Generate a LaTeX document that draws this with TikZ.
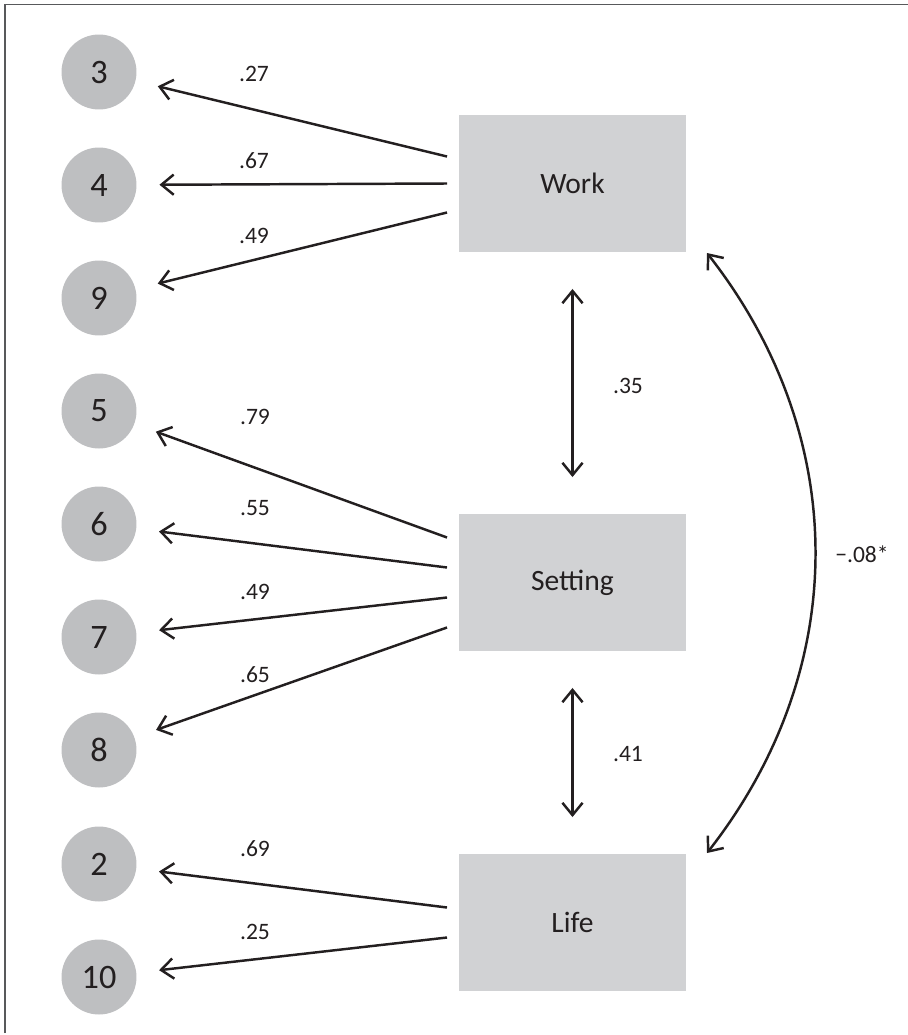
\documentclass[tikz,border=0pt]{standalone}
\usepackage{fontspec}
\setmainfont{Carlito}
\usetikzlibrary{arrows.meta}
\definecolor{itemgray}{HTML}{BEBFC1}
\definecolor{boxgray}{HTML}{D1D2D4}
\definecolor{ink}{HTML}{231F20}
\definecolor{framegray}{HTML}{58595B}

\begin{document}
\begin{tikzpicture}[x=0.02cm, y=-0.02cm,
    item/.style ={circle, fill=itemgray, minimum size=1.5cm, inner sep=0pt, outer sep=0.46cm, text=ink, font=\fontsize{19.5}{20}\selectfont},
    factor/.style ={rectangle, fill=boxgray, minimum width=4.54cm, minimum height=2.74cm, inner sep=0pt, outer xsep=0.24cm, outer ysep=0.74cm, text=ink, font=\fontsize{16.8}{17}\selectfont},
    weight/.style ={text=ink, font=\fontsize{13.4}{14}\selectfont},
    load/.style ={draw=ink, line width=1.4pt, -{Straight Barb[length=7pt,width=11.5pt]}},
    corr/.style ={draw=ink, line width=1.4pt, {Straight Barb[length=7pt,width=11.5pt]}-{Straight Barb[length=7pt,width=11.5pt]}}]
   \useasboundingbox (0,0) rectangle (908,1035);
   \draw[framegray, line width=1pt] (5,1033) -- (5,4.5) -- (908,4.5);

   \node[item] (i3)  at (99,72)  {3};
   \node[item] (i4)  at (99,185) {4};
   \node[item] (i9)  at (99,298) {9};
   \node[item] (i5)  at (99,411) {5};
   \node[item] (i6)  at (99,524) {6};
   \node[item] (i7)  at (99,637) {7};
   \node[item] (i8)  at (99,750) {8};
   \node[item] (i2)  at (99,864) {2};
   \node[item] (i10) at (99,977) {10};

   \node[factor] (Work)    at (572.5,183.5) {Work};
   \node[factor] (Setting) at (572.5,582.5) {Setting};
   \node[factor] (Life)    at (572.5,922.5) {Life};

   \coordinate (wa) at (707,253);
   \coordinate (la) at (707,853);

   \draw[load] ([yshift=0.54cm]Work.west)  to (i3);
   \draw[load] (Work.west)                 to (i4);
   \draw[load] ([yshift=-0.58cm]Work.west) to (i9);
   \draw[load] ([yshift=0.9cm]Setting.west)  to (i5);
   \draw[load] ([yshift=0.3cm]Setting.west)  to (i6);
   \draw[load] ([yshift=-0.3cm]Setting.west) to (i7);
   \draw[load] ([yshift=-0.9cm]Setting.west) to (i8);
   \draw[load] ([yshift=0.3cm]Life.west)  to (i2);
   \draw[load] ([yshift=-0.3cm]Life.west) to (i10);

   \draw[corr] (Work) to (Setting);
   \draw[corr] (Setting) to (Life);
   \draw[corr] (wa) to[bend left=38] (la);

   \node[weight] (w27) at (254,74)  {.27};
   \node[weight] (w67) at (254,161) {.67};
   \node[weight] (w49a) at (254,236) {.49};
   \node[weight] (w79) at (255,417) {.79};
   \node[weight] (w55) at (255,508) {.55};
   \node[weight] (w49b) at (255,592) {.49};
   \node[weight] (w65) at (255,675) {.65};
   \node[weight] (w69) at (255,849) {.69};
   \node[weight] (w25) at (255,932) {.25};
   \node[weight] (w35) at (628,386) {.35};
   \node[weight] (w41) at (628,754) {.41};
   \node[weight] (w08) at (862,554) {−.08*};
 \end{tikzpicture}
\end{document}
